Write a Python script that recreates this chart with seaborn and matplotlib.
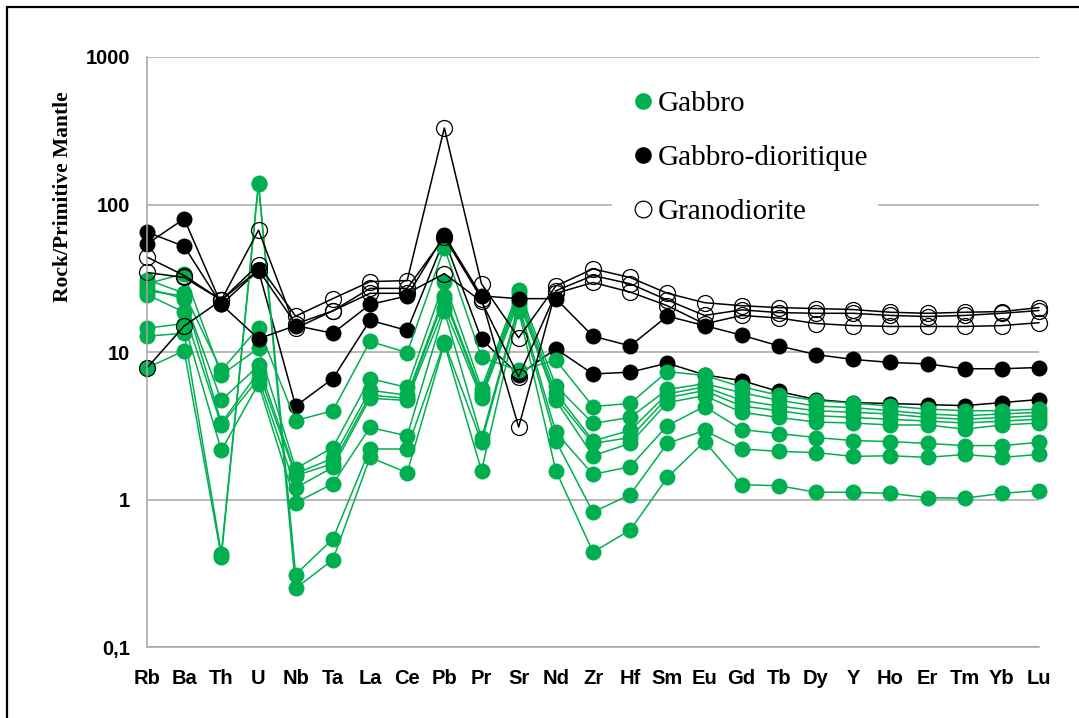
import numpy as np
import pandas as pd
import seaborn as sns
import matplotlib
matplotlib.use("Agg")
import matplotlib.pyplot as plt
from matplotlib.lines import Line2D
from matplotlib.ticker import FixedLocator, NullLocator

# Trace elements, primitive-mantle normalised
elements = ["Rb", "Ba", "Th", "U", "Nb", "Ta", "La", "Ce", "Pb", "Pr", "Sr", "Nd", "Zr",
            "Hf", "Sm", "Eu", "Gd", "Tb", "Dy", "Y", "Ho", "Er", "Tm", "Yb", "Lu"]

# Gabbro samples
gabbro_1 = [31, 25, 7.5, 14.6, 3.43, 4.0, 11.8, 9.9, 51, 9.2, 7.5, 8.8, 4.27, 4.48, 7.37, 6.93, 5.8, 5.1, 4.69, 4.5, 4.3, 4.1, 4.0, 4.0, 4.1]
gabbro_2 = [29, 34, 7.0, 10.6, 1.62, 2.25, 6.6, 5.75, 30, 5.65, 26.5, 5.9, 3.28, 3.6, 5.57, 6.1, 5.3, 4.7, 4.3, 4.2, 4.0, 3.8, 3.7, 3.8, 3.9]
gabbro_3 = [27, 23, 4.7, 8.1, 1.5, 1.9, 5.5, 5.1, 24, 5.3, 25, 5.3, 2.5, 2.94, 5.2, 5.8, 4.7, 4.3, 4.0, 3.9, 3.8, 3.6, 3.5, 3.6, 3.7]
gabbro_4 = [26, 24, 3.3, 7.3, 1.45, 1.75, 5.1, 4.85, 23, 5.06, 23.5, 4.9, 2.4, 2.63, 4.9, 5.48, 4.3, 4.0, 3.7, 3.6, 3.5, 3.4, 3.3, 3.4, 3.5]
gabbro_5 = [24.5, 18.6, 3.2, 6.6, 1.2, 1.65, 4.85, 4.7, 20, 4.85, 22, 4.7, 1.98, 2.4, 4.54, 5.06, 3.9, 3.6, 3.35, 3.3, 3.2, 3.2, 3.0, 3.2, 3.3]
gabbro_6 = [14.5, 15.6, 2.15, 6.1, 0.95, 1.28, 3.08, 2.7, 19, 2.6, 21, 2.85, 1.48, 1.67, 3.17, 4.27, 2.98, 2.8, 2.63, 2.51, 2.47, 2.4, 2.32, 2.32, 2.44]
gabbro_7 = [12.8, 13.4, 0.43, 140, 0.31, 0.54, 2.2, 2.2, 11.6, 2.45, 20, 2.5, 0.82, 1.08, 2.4, 2.94, 2.2, 2.12, 2.08, 1.96, 1.98, 1.93, 2.02, 1.93, 2.02]
gabbro_8 = [7.8, 10.2, 0.41, 138, 0.25, 0.39, 1.93, 1.52, 11.4, 1.57, 19, 1.57, 0.44, 0.62, 1.41, 2.47, 1.26, 1.24, 1.12, 1.12, 1.1, 1.03, 1.02, 1.1, 1.15]

# Gabbro-dioritique samples
gd_1 = [54, 80, 21, 12.3, 15.1, 13.4, 21, 24, 62, 24, 23, 23, 12.8, 11, 17.5, 15.1, 13, 11, 9.6, 8.9, 8.5, 8.3, 7.7, 7.7, 7.85]
gd_2 = [65, 52, 21, 35.7, 4.3, 6.6, 16.4, 14, 58, 12.2, 7.0, 10.5, 7.1, 7.3, 8.4, 7.0, 6.4, 5.4, 4.76, 4.54, 4.47, 4.4, 4.33, 4.54, 4.76]

# Granodiorite samples
grano_1 = [44, 33, 22.5, 39, 17.5, 23, 30, 30.5, 330, 29, 12.5, 28, 36.6, 32, 25, 21.6, 20.6, 20, 19.7, 19.4, 18.6, 18.3, 18.6, 18.8, 20]
grano_2 = [34.6, 32, 22.5, 36, 15.5, 19, 27, 27, 60, 23, 3.1, 26, 33, 29, 22.5, 17.7, 19.3, 18.5, 18.3, 18.3, 17.7, 17.4, 17.7, 18.3, 19.1]
grano_3 = [7.8, 15, 22.5, 67, 14.5, 19, 25, 25, 34, 22, 6.8, 25, 29.6, 25.5, 20.6, 15.5, 17.7, 17, 15.6, 15.1, 14.9, 14.9, 14.9, 15.1, 15.8]

GREEN = "#00B050"
GRID = "#A6A6A6"

# Drawing order (later samples sit on top)
samples = [
    ("gd_2", "Gabbro-dioritique", gd_2),
    ("gabbro_1", "Gabbro", gabbro_1), ("gabbro_2", "Gabbro", gabbro_2),
    ("gabbro_3", "Gabbro", gabbro_3), ("gabbro_4", "Gabbro", gabbro_4),
    ("gabbro_5", "Gabbro", gabbro_5), ("gabbro_6", "Gabbro", gabbro_6),
    ("gabbro_7", "Gabbro", gabbro_7), ("gabbro_8", "Gabbro", gabbro_8),
    ("gd_1", "Gabbro-dioritique", gd_1),
    ("grano_1", "Granodiorite", grano_1), ("grano_2", "Granodiorite", grano_2),
    ("grano_3", "Granodiorite", grano_3),
]

rows = []
for sid, rock, vals in samples:
    for i, (el, v) in enumerate(zip(elements, vals)):
        rows.append({"sample": sid, "rock": rock, "pos": i, "element": el, "value": v})
df = pd.DataFrame(rows)

styles = {
    "Gabbro": dict(color=GREEN, markerfacecolor=GREEN, markeredgecolor=GREEN, markeredgewidth=0),
    "Gabbro-dioritique": dict(color="black", markerfacecolor="black", markeredgecolor="black", markeredgewidth=0),
    "Granodiorite": dict(color="black", markerfacecolor="none", markeredgecolor="black", markeredgewidth=0.9),
}

sns.set_theme(style="white")
plt.rcParams["font.family"] = ["Liberation Sans", "DejaVu Sans"]
plt.rcParams["text.color"] = "black"

W, H = 1079, 718
fig = plt.figure(figsize=(W / 100, H / 100), dpi=100)
x0, x1, y0, y1 = 147, 1039, 57, 647
ax = fig.add_axes([x0 / W, 1 - y1 / H, (x1 - x0) / W, (y1 - y0) / H])

for sid, rock, _ in samples:
    sns.lineplot(data=df[df["sample"] == sid], x="pos", y="value", ax=ax,
                 marker="o", markersize=11.5, linewidth=1.1, clip_on=False,
                 legend=False, **styles[rock])

ax.set_yscale("log")
ax.set_ylim(0.1, 1000)
ax.set_xlim(0, len(elements) - 1)

ax.yaxis.set_major_locator(FixedLocator([0.1, 1, 10, 100, 1000]))
ax.yaxis.set_minor_locator(NullLocator())
ax.set_yticklabels(["0,1", "1", "10", "100", "1000"])
ax.set_xticks(range(len(elements)))
ax.set_xticklabels(elements)
ax.set_xlabel("")
ax.set_ylabel("")

ax.grid(axis="y", color=GRID, linewidth=1.1)
ax.grid(axis="x", visible=False)
ax.set_axisbelow(True)
for side in ("top", "right"):
    ax.spines[side].set_visible(False)
for side in ("left", "bottom"):
    ax.spines[side].set_color(GRID)
    ax.spines[side].set_linewidth(1.1)

ax.tick_params(axis="both", which="major", direction="out", color=GRID, width=1.1,
               labelsize=14.5, labelcolor="black")
ax.tick_params(axis="y", length=5, pad=7)
ax.tick_params(axis="x", length=4.5, pad=11)
for lab in ax.get_xticklabels() + ax.get_yticklabels():
    lab.set_fontweight("bold")

fig.text(63 / W, 1 - 197 / H, "Rock/Primitive Mantle", rotation=90, ha="center", va="center",
         family=["Liberation Serif", "DejaVu Serif"], fontweight="bold", fontsize=15.5, color="black")

handles = [
    Line2D([], [], linestyle="none", marker="o", markersize=12, **{k: v for k, v in styles["Gabbro"].items() if k != "color"}),
    Line2D([], [], linestyle="none", marker="o", markersize=12, **{k: v for k, v in styles["Gabbro-dioritique"].items() if k != "color"}),
    Line2D([], [], linestyle="none", marker="o", markersize=12, **{k: v for k, v in styles["Granodiorite"].items() if k != "color"}),
]
leg = fig.legend(handles, ["Gabbro", "Gabbro-dioritique", "Granodiorite"],
                 loc="upper left", bbox_to_anchor=(612 / W, 1 - 82 / H),
                 prop={"family": ["Liberation Serif", "DejaVu Serif"], "size": 21},
                 frameon=True, fancybox=False, facecolor="white", edgecolor="white",
                 framealpha=1, borderpad=0.3, handlelength=1.54, handletextpad=-0.28,
                 labelspacing=0.95, borderaxespad=0)
for t in leg.get_texts():
    t.set_color("black")

# Outer frame of the chart area
fig.add_artist(Line2D([7 / W, 7 / W], [0, 1 - 7 / H], color="black", linewidth=1.6, transform=fig.transFigure))
fig.add_artist(Line2D([7 / W, 1], [1 - 7 / H, 1 - 7 / H], color="black", linewidth=1.6, transform=fig.transFigure))

fig.savefig("out.png", dpi=100, facecolor="white")
